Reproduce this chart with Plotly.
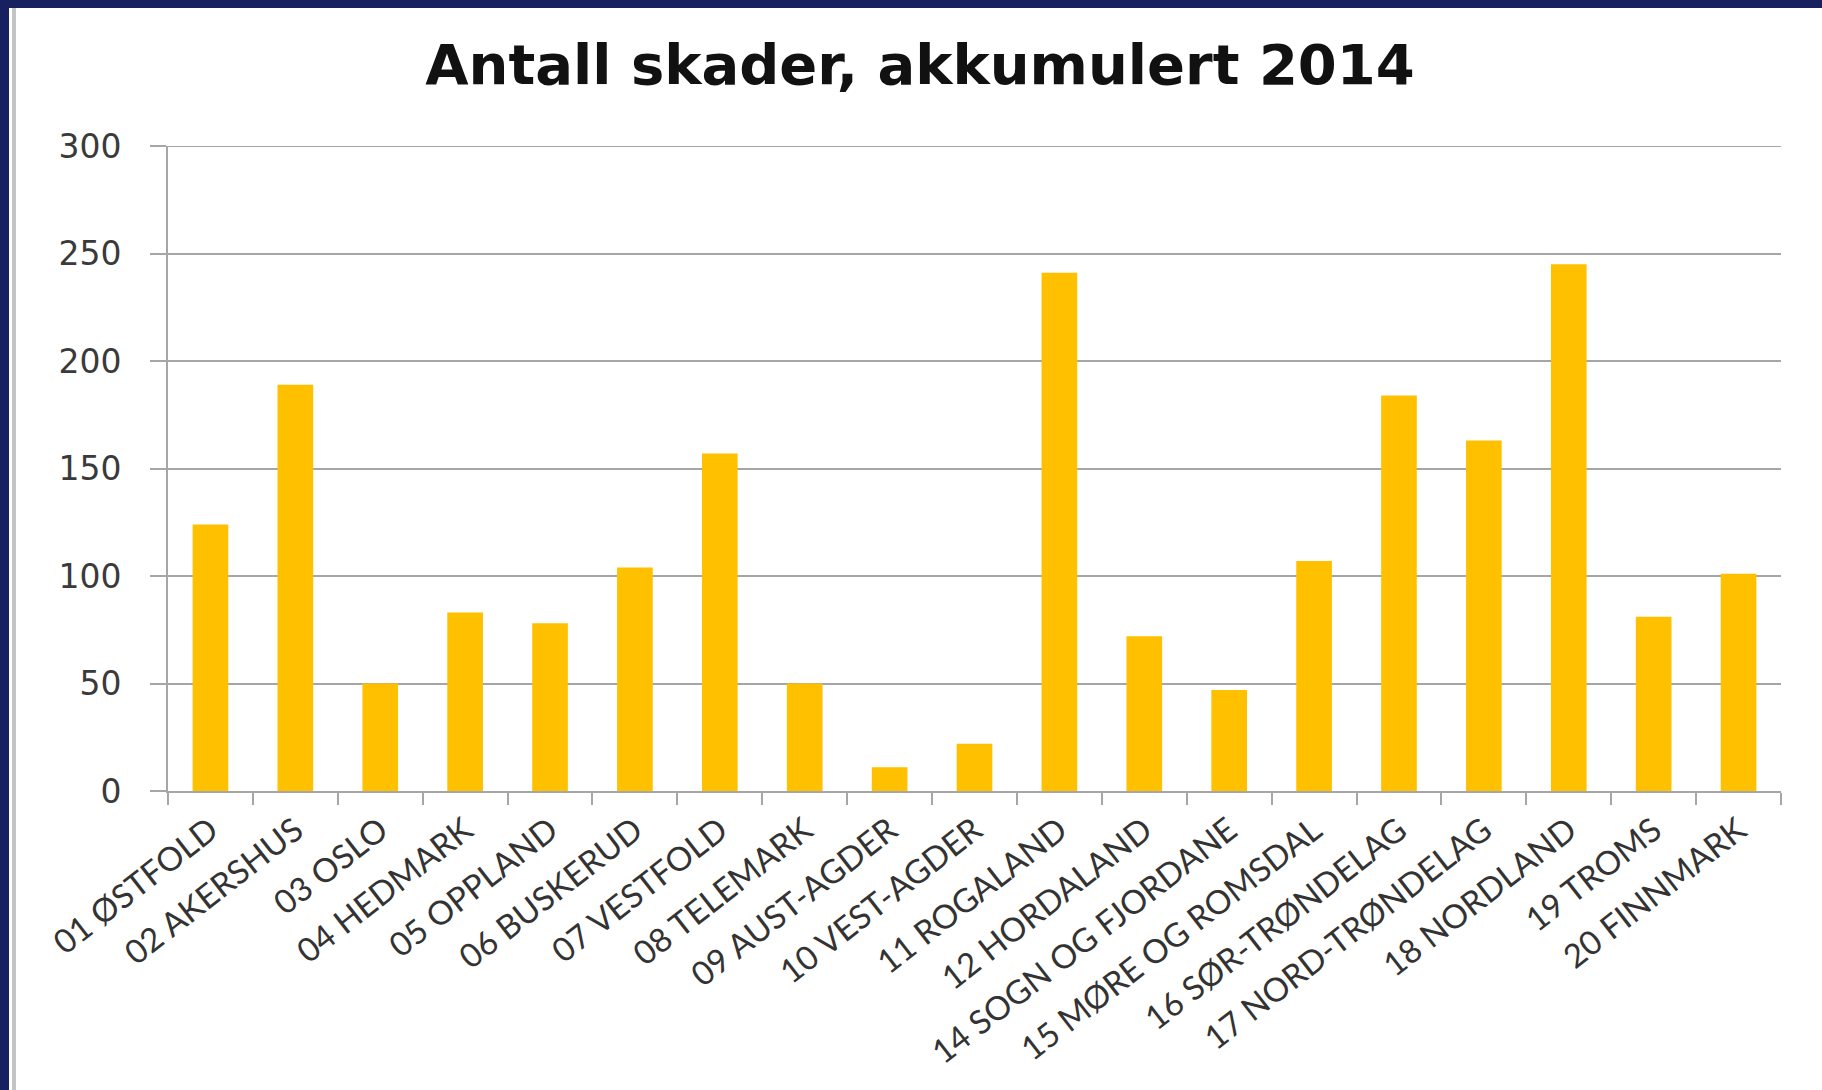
import plotly.graph_objects as go

categories = ["01 ØSTFOLD", "02 AKERSHUS", "03 OSLO", "04 HEDMARK", "05 OPPLAND",
              "06 BUSKERUD", "07 VESTFOLD", "08 TELEMARK", "09 AUST-AGDER", "10 VEST-AGDER",
              "11 ROGALAND", "12 HORDALAND", "14 SOGN OG FJORDANE", "15 MØRE OG ROMSDAL",
              "16 SØR-TRØNDELAG", "17 NORD-TRØNDELAG", "18 NORDLAND", "19 TROMS", "20 FINNMARK"]
values = [124, 189, 50, 83, 78, 104, 157, 50, 11, 22, 241, 72, 47, 107, 184, 163, 245, 81, 101]
y_ticks = [0, 50, 100, 150, 200, 250, 300]

W, H = 1822, 1090
L, R, T, B = 168, 1781, 146, 791
pw, ph = R - L, B - T

def px(x):
    return (x - L) / pw

def py(y):
    return (B - y) / ph

fig = go.Figure(go.Bar(x=categories, y=values, marker=dict(color="#FFC000", line=dict(width=0)),
                       width=0.42))

navy = "#17215F"
grid = "#a6a6a6"
shapes = [
    dict(type="line", xref="paper", yref="y", x0=0, x1=1, y0=y_ticks[-1], y1=y_ticks[-1],
         line=dict(color=grid, width=2), layer="below"),
    dict(type="rect", xref="paper", yref="paper", x0=px(0), x1=px(9), y0=py(H), y1=py(0),
         fillcolor=navy, line=dict(width=0), layer="above"),
    dict(type="rect", xref="paper", yref="paper", x0=px(0), x1=px(W), y0=py(8), y1=py(0),
         fillcolor=navy, line=dict(width=0), layer="above"),
    dict(type="rect", xref="paper", yref="paper", x0=px(12), x1=px(16), y0=py(H), y1=py(8),
         fillcolor="#c4c4c4", line=dict(width=0), layer="above"),
]

fig.update_layout(
    width=W, height=H,
    margin=dict(l=L, r=W - R, t=T, b=H - B, autoexpand=False),
    paper_bgcolor="white", plot_bgcolor="white",
    showlegend=False,
    title=dict(text="Antall skader, akkumulert 2014", x=920 / W, xanchor="center",
               y=1 - 64 / H, yanchor="middle", xref="container", yref="container",
               font=dict(family="DejaVu Sans", size=56, color="#111111", weight="bold")),
    shapes=shapes,
    xaxis=dict(showline=True, linecolor=grid, linewidth=2, ticks="outside", tickson="boundaries",
               ticklen=12, tickcolor=grid, tickwidth=2, tickangle=-38, ticklabelstandoff=5,
               tickfont=dict(family="Lato", size=33, color="#333333"), showgrid=False,
               range=[-0.5, len(categories) - 0.5]),
    yaxis=dict(range=[0, 300], tickvals=y_ticks, showgrid=True, gridcolor=grid, gridwidth=2,
               showline=True, linecolor=grid, linewidth=2, ticks="outside", ticklen=16,
               tickcolor=grid, tickwidth=2, zeroline=False, ticklabelstandoff=22,
               tickfont=dict(family="DejaVu Sans", size=33, color="#3a3a3a")),
)

fig.write_html("out.html", config={"displayModeBar": False},
               post_script="document.body.style.margin='0';document.body.style.overflow='hidden';")
